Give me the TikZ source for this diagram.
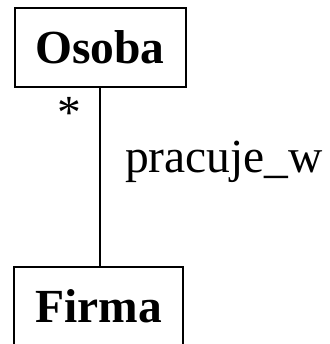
\documentclass[tikz,border=0pt]{standalone}
\usepackage{fontspec}
\setmainfont{Liberation Serif}
\usetikzlibrary{calc}

\begin{document}
\begin{tikzpicture}[x=1pt, y=-1pt,
    klasa/.style ={rectangle, draw, line width=2pt, inner sep = 0pt, minimum width=171pt, minimum height=79.5pt, font=\fontsize{47.5}{56}\selectfont\bfseries},
    opis/.style ={inner sep = 0pt, font=\fontsize{47.5}{56}\selectfont}]
   \useasboundingbox (0,0) rectangle (329,344);
   \node[klasa] (osoba) at (100,47.75)  {Osoba};
   \node[klasa, minimum width=169pt] (firma) at (98.5,306.5)  {Firma};
   \node[opis, anchor=base] (krotnosc) at (69,129)  {*};
   \node[opis, anchor=base west] (nazwa) at (125,172)  {pracuje\_w};

   \draw[line width=2pt] (osoba) to  (osoba |- firma.north);
%   \draw[line width=2pt] (osoba) to (firma);
 \end{tikzpicture}
\end{document}
